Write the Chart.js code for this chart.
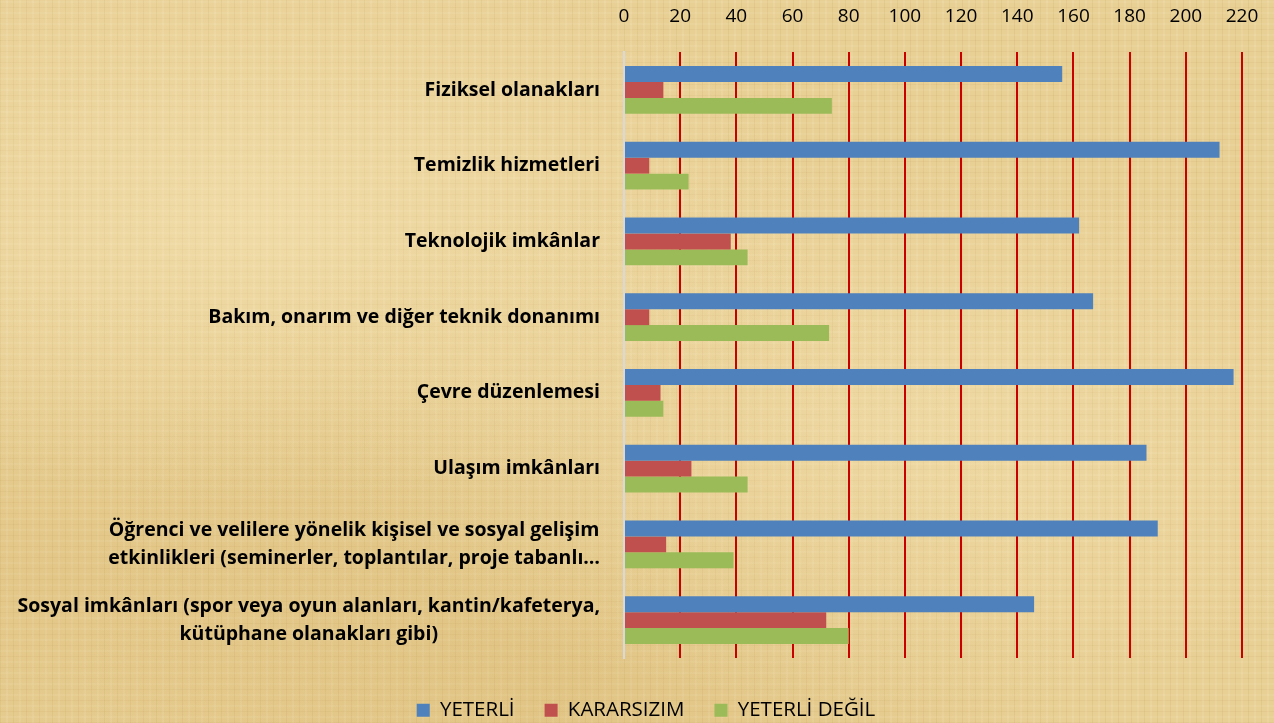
<!DOCTYPE html>
<html>
<head>
<meta charset="utf-8">
<script src="https://cdn.jsdelivr.net/npm/chart.js@4.4.0/dist/chart.umd.min.js"></script>
<style>
html,body{margin:0;padding:0;}
body{
  width:1274px;height:723px;overflow:hidden;
  background-color:#e8cf94;
  background-image:
    radial-gradient(ellipse at 20% 30%, rgba(255,240,200,0.35), transparent 40%),
    radial-gradient(ellipse at 70% 60%, rgba(255,240,200,0.30), transparent 45%),
    radial-gradient(ellipse at 45% 95%, rgba(200,160,80,0.22), transparent 50%),
    radial-gradient(ellipse at 5% 80%, rgba(200,160,80,0.18), transparent 35%),
    repeating-linear-gradient(90deg, rgba(170,130,60,0.10) 0px, rgba(170,130,60,0.10) 1px, transparent 1px, transparent 6px, rgba(255,245,215,0.12) 6px, rgba(255,245,215,0.12) 8px, transparent 8px, transparent 13px),
    repeating-linear-gradient(0deg, rgba(170,130,60,0.08) 0px, rgba(170,130,60,0.08) 1px, transparent 1px, transparent 5px, rgba(255,245,215,0.10) 5px, rgba(255,245,215,0.10) 7px, transparent 7px, transparent 11px);
}
#wrap{position:relative;width:1274px;height:723px;}
</style>
</head>
<body>
<div id="wrap"><canvas id="c"></canvas></div>
<script>
// ---- data ----
const categories = [
  'Fiziksel olanakları',
  'Temizlik hizmetleri',
  'Teknolojik imkânlar',
  'Bakım, onarım ve diğer teknik donanımı',
  'Çevre düzenlemesi',
  'Ulaşım imkânları',
  ['Öğrenci ve velilere yönelik kişisel ve sosyal gelişim', 'etkinlikleri (seminerler, toplantılar, proje tabanlı…'],
  ['Sosyal imkânları (spor veya oyun alanları, kantin/kafeterya,', 'kütüphane olanakları gibi)']
];
const seriesNames = ['YETERLİ', 'KARARSIZIM', 'YETERLİ DEĞİL'];
const yeterli      = [156, 212, 162, 167, 217, 186, 190, 146];
const kararsizim   = [14, 9, 38, 9, 13, 24, 15, 72];
const yeterliDegil = [74, 23, 44, 73, 14, 44, 39, 80];
const xTickValues  = [0, 20, 40, 60, 80, 100, 120, 140, 160, 180, 200, 220];

const colors = ['#4F81BD', '#C0504D', '#9BBB59'];

// centre multi-line label blocks, right-aligned as a block (like Excel)
const centerBlockLabels = {
  id: 'centerBlockLabels',
  beforeDraw(chart) {
    const sc = chart.scales.y;
    const items = sc.getLabelItems();
    const ctx = chart.ctx;
    items.forEach(it => {
      if (it._cb) return;
      const lines = Array.isArray(it.label) ? it.label : [it.label];
      ctx.save();
      ctx.font = it.font.string;
      const w = Math.max(...lines.map(l => ctx.measureText(l).width));
      ctx.restore();
      it.options.textAlign = 'center';
      it.options.translation[0] -= w / 2;
      it._cb = true;
    });
  }
};

const legendPlacement = {
  id: 'legendPlacement',
  beforeLayout(chart) {
    const lg = chart.legend;
    if (lg && !lg._patched) {
      const orig = lg.fit;
      lg.fit = function () { orig.call(this); this.height = 53; };
      lg._patched = true;
    }
  },
  afterLayout(chart) {
    const lg = chart.legend;
    if (lg) { lg.left += 25; lg.right += 25; }
  }
};

new Chart(document.getElementById('c'), {
  type: 'bar',
  data: {
    labels: categories,
    datasets: [
      { label: seriesNames[0], data: yeterli, backgroundColor: colors[0], borderWidth: 0, xAxisID: 'x', yAxisID: 'y' },
      { label: seriesNames[1], data: kararsizim, backgroundColor: colors[1], borderWidth: 0, xAxisID: 'x', yAxisID: 'y' },
      { label: seriesNames[2], data: yeterliDegil, backgroundColor: colors[2], borderWidth: 0, xAxisID: 'x', yAxisID: 'y' }
    ]
  },
  options: {
    indexAxis: 'y',
    responsive: true,
    maintainAspectRatio: false,
    animation: false,
    layout: { padding: { left: 0, right: 32, top: 0, bottom: 0 } },
    datasets: { bar: { categoryPercentage: 0.63, barPercentage: 1.0 } },
    scales: {
      x: {
        type: 'linear',
        position: 'top',
        min: 0,
        max: 220,
        afterBuildTicks(s) { s.ticks = xTickValues.map(v => ({ value: v })); },
        afterFit(s) { s.height = 49; s.paddingLeft = 0; s.paddingRight = 0; },
        border: { display: false },
        grid: {
          drawTicks: false,
          lineWidth: 2,
          color: ctx => (ctx.tick && ctx.tick.value === 0) ? 'rgba(0,0,0,0)' : '#C80000'
        },
        ticks: {
          padding: 24,
          color: '#000',
          font: { family: 'Open Sans', size: 19 }
        }
      },
      x2: {
        type: 'linear',
        position: 'bottom',
        display: true,
        afterFit(s) { s.height = 12; },
        border: { display: false },
        grid: { display: false, drawTicks: false },
        ticks: { display: false }
      },
      y: {
        type: 'category',
        position: 'left',
        afterFit(s) { s.width = 624; },
        border: { display: true, color: '#D9D9D9', width: 2 },
        grid: { display: false, drawTicks: false },
        ticks: {
          padding: 24,
          color: '#000',
          font: { family: 'Open Sans', size: 19.5, weight: 'bold', lineHeight: 1.44 },
          autoSkip: false
        }
      }
    },
    plugins: {
      legend: {
        position: 'bottom',
        labels: {
          boxWidth: 13,
          boxHeight: 13,
          padding: 30,
          color: '#000',
          font: { family: 'Open Sans', size: 20.5 }
        }
      },
      tooltip: { enabled: false }
    }
  },
  plugins: [centerBlockLabels, legendPlacement]
});
</script>
</body>
</html>
